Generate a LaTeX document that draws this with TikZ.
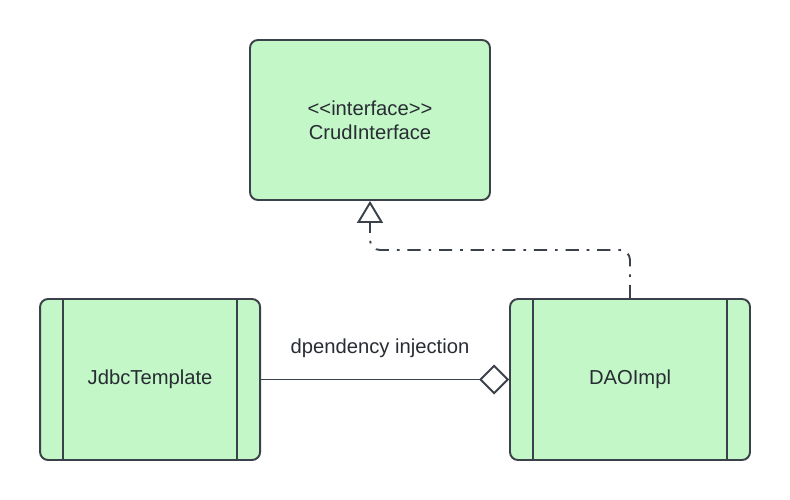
\documentclass[tikz,border=0pt]{standalone}
\usepackage{fontspec}
\setmainfont{Liberation Sans}
\usepackage{xcolor}
\usepackage{tikz}
\usetikzlibrary{positioning}
\usetikzlibrary{arrows.meta}
\definecolor{boxgreen}{HTML}{C3F7C8}
\definecolor{linegray}{HTML}{3A414A}
\definecolor{textgray}{HTML}{282C33}
\tikzset{iface node/.style={rectangle,rounded corners=0.16cm,fill=boxgreen,draw=linegray,line width=1.1pt,minimum width=4.8cm,minimum height=3.2cm,align=center,text=textgray,font=\fontsize{11.5}{13.6}\selectfont},
class node/.style={iface node,minimum height=3.22cm,path picture={
    \draw[sharp corners,draw=linegray,line width=1.1pt] ([xshift=0.46cm]path picture bounding box.north west) -- ([xshift=0.46cm]path picture bounding box.south west);
    \draw[sharp corners,draw=linegray,line width=1.1pt] ([xshift=-0.46cm]path picture bounding box.north east) -- ([xshift=-0.46cm]path picture bounding box.south east);}},
link/.style={draw=linegray,line width=1.1pt},}

\begin{document}
\begin{tikzpicture}
    \useasboundingbox (0,0) rectangle (15.8,-10);

    \node[iface node] (crud) at (7.4,-2.4) {<\kern0pt<interface>\kern0pt>\\CrudInterface};
    \node[class node] (dao) at (12.6,-7.59) {DAOImpl};
    \node[class node,minimum width=4.4cm] (jdbc) [left = 4.96cm of dao] {JdbcTemplate};
    \coordinate (bend) at (7.4,-5);

    \path[link]
    (jdbc) edge[-{Diamond[open,length=0.6cm,width=0.6cm]}] node[above=0.3cm,xshift=-0.1cm,text=textgray,font=\fontsize{11.5}{13.6}\selectfont] {dpendency injection} (dao)
    ;
    \draw[link,rounded corners=0.2cm,dash pattern=on 7.5pt off 4.5pt on 1.5pt off 4.5pt,-{Triangle[open,length=0.44cm,width=0.52cm]}]
    (dao.north) |- (bend) -- (crud.south);

\end{tikzpicture}
\end{document}
